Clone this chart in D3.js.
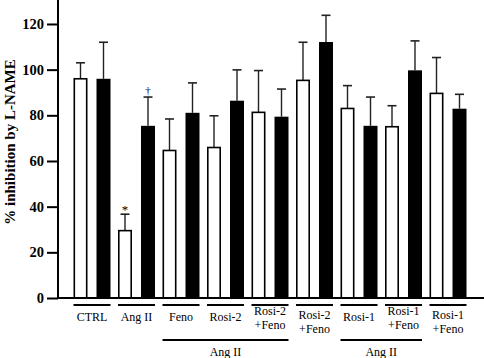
<!DOCTYPE html>
<html>
<head>
<meta charset="utf-8">
<script src="https://cdn.jsdelivr.net/npm/d3@7"></script>
<style>
  body { margin: 0; background: #fff; }
  svg { display: block; }
  text { font-family: "Liberation Serif", "Times New Roman", serif; fill: #000; }
</style>
</head>
<body>
<div id="chart"></div>
<script>
// group labels (one entry per line)
const groupLabels = [
    ["CTRL"], ["Ang II"], ["Feno"], ["Rosi-2"], ["Rosi-2", "+Feno"],
    ["Rosi-2", "+Feno"], ["Rosi-1"], ["Rosi-1", "+Feno"], ["Rosi-1", "+Feno"]
]
// open bars and their SEM
const whiteValues = [96, 29.5, 64.6, 65.9, 81.3, 95.3, 83, 75, 89.6]
const whiteErrors = [7, 7.2, 13.8, 13.9, 18.3, 16.7, 10, 9.2, 15.7]
// filled bars and their SEM
const blackValues = [96, 75.4, 81.1, 86.4, 79.4, 112.1, 75.4, 99.7, 82.9]
const blackErrors = [16, 12.6, 13.1, 13.5, 12.1, 11.7, 12.6, 12.9, 6.3]
// significance marks
const whiteMarks = ["", "*", "", "", "", "", "", "", ""]
const blackMarks = ["", "\u2020", "", "", "", "", "", "", ""]
// brackets under several groups
const brackets = [
    {label: "Ang II", from: 2, to: 4},
    {label: "Ang II", from: 6, to: 7}
]
const yTicks = [0, 20, 40, 60, 80, 100, 120]
const yLabel = "% inhibition by L-NAME"

const width = 484, height = 358
const svg = d3.select("#chart").append("svg")
    .attr("width", width)
    .attr("height", height)

const data = groupLabels.map((g, i) => ({
    id: i, label: g,
    white: whiteValues[i], whiteErr: whiteErrors[i], whiteMark: whiteMarks[i],
    black: blackValues[i], blackErr: blackErrors[i], blackMark: blackMarks[i]
}))

const y = d3.scaleLinear().domain([0, 130.5]).range([298, 0])
const x = d3.scaleBand().domain(data.map(d => d.id)).range([69.75, 470.25])
const xs = d3.scaleBand().domain(["white", "black"]).range([0, x.bandwidth()])
    .paddingInner(9 / 23).paddingOuter(3.75 / 23)

// y axis
const yAxis = svg.append("g")
    .attr("transform", "translate(58,0)")
    .call(d3.axisLeft(y).tickValues(yTicks).tickSize(11).tickPadding(3))
yAxis.select(".domain").remove()
yAxis.selectAll(".tick line").attr("stroke", "#000").attr("stroke-width", 2)
yAxis.selectAll(".tick text")
    .attr("font-size", 14.5).attr("font-weight", "bold")
    .attr("font-family", "Liberation Serif, serif").attr("fill", "#000")

svg.append("line")
    .attr("x1", 58).attr("x2", 58).attr("y1", 0).attr("y2", y(0) + 1)
    .attr("stroke", "#000").attr("stroke-width", 2)

svg.append("text")
    .attr("transform", "translate(15,142) rotate(-90)")
    .attr("text-anchor", "middle")
    .attr("font-size", 15).attr("font-weight", "bold")
    .text(yLabel)

// bars
const groups = svg.selectAll(".grp").data(data).enter().append("g")
    .attr("class", "grp")
    .attr("transform", d => "translate(" + x(d.id) + ",0)")

const bars = groups.selectAll(".bar")
    .data(d => [
        {key: "white", v: d.white, e: d.whiteErr, m: d.whiteMark},
        {key: "black", v: d.black, e: d.blackErr, m: d.blackMark}
    ])
    .enter().append("g").attr("class", "bar")

// error bars (upper only)
bars.append("line")
    .attr("x1", d => xs(d.key) + xs.bandwidth() / 2)
    .attr("x2", d => xs(d.key) + xs.bandwidth() / 2)
    .attr("y1", d => y(d.v))
    .attr("y2", d => y(d.v + d.e))
    .attr("stroke", "#222").attr("stroke-width", 1.4)
bars.append("line")
    .attr("x1", d => xs(d.key) + xs.bandwidth() / 2 - 4.5)
    .attr("x2", d => xs(d.key) + xs.bandwidth() / 2 + 4.5)
    .attr("y1", d => y(d.v + d.e))
    .attr("y2", d => y(d.v + d.e))
    .attr("stroke", "#222").attr("stroke-width", 1.6)

bars.append("rect")
    .attr("x", d => xs(d.key) + (d.key === "white" ? 0.8 : 0))
    .attr("width", d => xs.bandwidth() - (d.key === "white" ? 1.6 : 0))
    .attr("y", d => y(d.v))
    .attr("height", d => y(0) - y(d.v))
    .attr("fill", d => d.key === "white" ? "#fff" : "#000")
    .attr("stroke", "#000")
    .attr("stroke-width", d => d.key === "white" ? 1.6 : 0)

bars.filter(d => d.m !== "").append("text")
    .attr("x", d => xs(d.key) + xs.bandwidth() / 2)
    .attr("y", d => y(d.v + d.e) - (d.key === "white" ? 0 : 3))
    .attr("text-anchor", "middle")
    .attr("font-size", d => d.key === "white" ? 13 : 11)
    .attr("fill", "#000")
    .style("font-family", "'Liberation Serif', serif")
    .text(d => d.m)

// baseline
svg.append("line")
    .attr("x1", 57).attr("x2", width).attr("y1", y(0)).attr("y2", y(0))
    .attr("stroke", "#000").attr("stroke-width", 2)

// group underline and labels
const left = d => x(d.id) + xs("white")
const right = d => x(d.id) + xs("black") + xs.bandwidth()

groups.append("line")
    .attr("x1", d => xs("white"))
    .attr("x2", d => xs("black") + xs.bandwidth())
    .attr("y1", 305).attr("y2", 305)
    .attr("stroke", "#000").attr("stroke-width", 1.8)

groups.each(function (d, i) {
    const g = d3.select(this)
    const two = d.label.length > 1
    // a two-line label followed by another one sits a bit higher
    const raised = two && data[i + 1] && data[i + 1].label.length > 1
    const top = two ? (raised ? 315 : 319) : 321
    d.label.forEach((line, k) => {
        g.append("text")
            .attr("x", x.bandwidth() / 2)
            .attr("y", top + k * 14)
            .attr("text-anchor", "middle")
            .attr("font-size", 12)
            .text(line)
    })
})

brackets.forEach(b => {
    const x1 = left(data[b.from]), x2 = right(data[b.to])
    svg.append("line")
        .attr("x1", x1).attr("x2", x2)
        .attr("y1", 340).attr("y2", 340)
        .attr("stroke", "#000").attr("stroke-width", 1.8)
    svg.append("text")
        .attr("x", (x1 + x2) / 2)
        .attr("y", 356)
        .attr("text-anchor", "middle")
        .attr("font-size", 12)
        .text(b.label)
})
</script>
</body>
</html>
